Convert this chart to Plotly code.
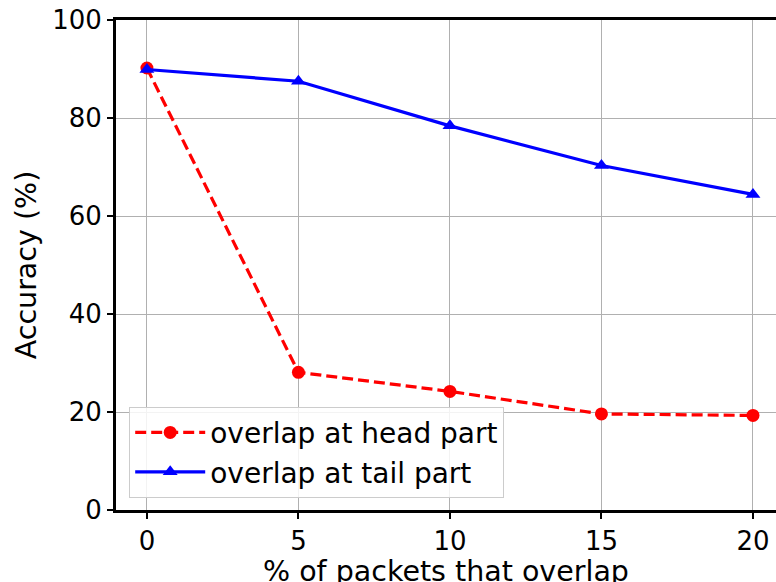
import plotly.graph_objects as go

x_vals = [0, 5, 10, 15, 20]
head_acc = [90.2, 28.1, 24.2, 19.6, 19.3]
tail_acc = [89.9, 87.5, 78.4, 70.3, 64.4]
x_ticks = [0, 5, 10, 15, 20]
y_ticks = [0, 20, 40, 60, 80, 100]
x_title = "% of packets that overlap"
y_title = "Accuracy (%)"

FONT = "DejaVu Sans"

fig = go.Figure()
fig.add_trace(go.Scatter(
    x=x_vals, y=head_acc, mode="lines+markers", name="overlap at head part",
    line=dict(color="#ff0000", width=3.2, dash="11px,5px"),
    marker=dict(symbol="circle", size=13, color="#ff0000"),
))
fig.add_trace(go.Scatter(
    x=x_vals, y=tail_acc, mode="lines+markers", name="overlap at tail part",
    line=dict(color="#0000ff", width=3.2),
    marker=dict(symbol="triangle-up", size=13, color="#0000ff"),
))

fig.update_layout(
    width=776, height=582,
    margin=dict(l=116, r=0, t=20, b=72),
    paper_bgcolor="white", plot_bgcolor="white",
    font=dict(family=FONT, size=26, color="black"),
    showlegend=True,
    legend=dict(
        x=0.02, y=0.025, xanchor="left", yanchor="bottom",
        bgcolor="rgba(255,255,255,0.85)", bordercolor="#cccccc", borderwidth=1,
        font=dict(family=FONT, size=28, color="black"),
        tracegroupgap=0, itemwidth=70,
    ),
    annotations=[dict(
        text=x_title, xref="paper", yref="paper", x=0.5, y=0,
        xanchor="center", yanchor="top", yshift=-44, showarrow=False,
        borderpad=0,
        font=dict(family=FONT, size=28.5, color="black"),
    )],
)
fig.update_xaxes(
    range=[-1.02, 20.76], tickvals=x_ticks, ticktext=[str(v) for v in x_ticks],
    showgrid=True, gridcolor="#b0b0b0", gridwidth=1, zeroline=False,
    showline=True, linecolor="black", linewidth=3, mirror=True,
    ticks="outside", ticklen=6, tickwidth=1.5, tickcolor="black",
    tickfont=dict(size=26),
    automargin=False,
)
fig.update_yaxes(
    range=[0, 100], tickvals=y_ticks, ticktext=[str(v) for v in y_ticks],
    showgrid=True, gridcolor="#b0b0b0", gridwidth=1, zeroline=False,
    showline=True, linecolor="black", linewidth=3, mirror=False,
    ticks="outside", ticklen=6, tickwidth=1.5, tickcolor="black",
    tickfont=dict(size=26),
    title=dict(text=y_title, standoff=8, font=dict(size=28.5)),
    automargin=False,
)

fig.write_html("out.html")
